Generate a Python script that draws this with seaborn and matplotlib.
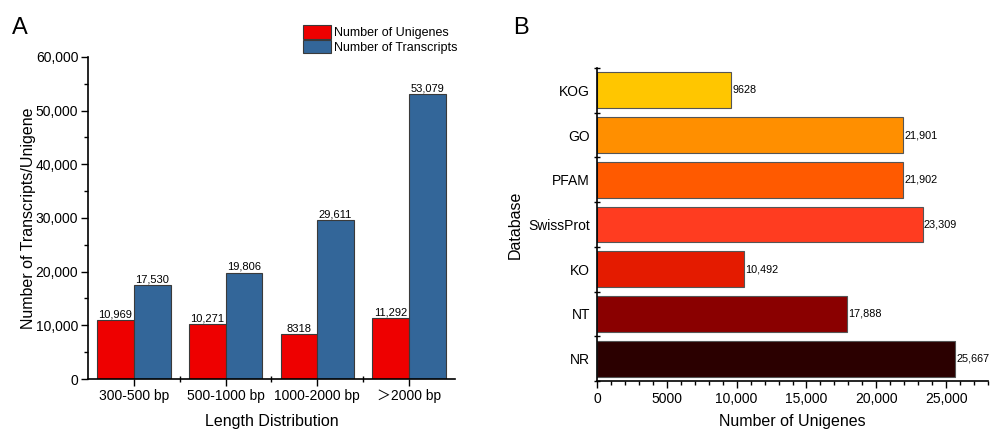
import numpy as np
import pandas as pd
import matplotlib
matplotlib.use("Agg")
import matplotlib.pyplot as plt
from matplotlib.ticker import MultipleLocator, FixedLocator, FuncFormatter
import seaborn as sns

# Panel A data
lengths = ["300-500 bp", "500-1000 bp", "1000-2000 bp", "＞2000 bp"]
unigenes = [10969, 10271, 8318, 11292]
transcripts = [17530, 19806, 29611, 53079]
series_names = ["Number of Unigenes", "Number of Transcripts"]

# Panel B data
databases = ["KOG", "GO", "PFAM", "SwissProt", "KO", "NT", "NR"]
db_counts = [9628, 21901, 21902, 23309, 10492, 17888, 25667]
db_colors = ["#FFC600", "#FF8F00", "#FF5A00", "#FF3C20", "#E41B00", "#8A0000", "#2B0000"]

sns.set_style("white")
plt.rcParams["font.family"] = ["Liberation Sans", "Noto Sans CJK SC", "DejaVu Sans"]
plt.rcParams.update({"text.color": "black", "axes.labelcolor": "black",
                     "xtick.color": "black", "ytick.color": "black"})


def fmt(v):
    v = int(round(v))
    return f"{v:,}" if v >= 10000 else str(v)


df_a = pd.DataFrame({
    "Length": lengths * 2,
    "Count": unigenes + transcripts,
    "Type": [series_names[0]] * 4 + [series_names[1]] * 4,
})
df_b = pd.DataFrame({"Database": databases, "Count": db_counts})

fig = plt.figure(figsize=(9.91, 4.30), dpi=100)
ax1 = fig.add_axes([0.0888, 0.1186, 0.370, 0.749])
ax2 = fig.add_axes([0.6024, 0.1140, 0.3946, 0.728])

# ---- A ----
sns.barplot(data=df_a, x="Length", y="Count", hue="Type",
            palette=["#EE0000", "#336699"], saturation=1, edgecolor="#3a3a3a",
            linewidth=0.8, width=0.8, ax=ax1)
for cont in ax1.containers:
    ax1.bar_label(cont, labels=[fmt(b.get_height()) for b in cont], fontsize=8, padding=0.5)
ax1.set_ylim(0, 60000)
ax1.set_xlim(-0.5, 3.5)
ax1.yaxis.set_major_locator(MultipleLocator(10000))
ax1.yaxis.set_minor_locator(MultipleLocator(5000))
ax1.yaxis.set_major_formatter(FuncFormatter(lambda v, p: fmt(v)))
ax1.xaxis.set_minor_locator(FixedLocator([0.5, 1.5, 2.5]))
ax1.tick_params(axis="both", which="both", bottom=True, left=True)
ax1.tick_params(axis="both", which="major", direction="out", length=5, width=1,
                labelsize=10, pad=2)
ax1.tick_params(axis="y", which="minor", direction="out", length=3, width=1)
ax1.tick_params(axis="x", which="minor", direction="inout", length=5, width=1)
ax1.set_xlabel("Length Distribution", fontsize=11.5, labelpad=8)
ax1.set_ylabel("Number of Transcripts/Unigene", fontsize=11.5, labelpad=0)
for s in ["top", "right"]:
    ax1.spines[s].set_visible(False)
for s in ["left", "bottom"]:
    ax1.spines[s].set_color("black")
    ax1.spines[s].set_linewidth(1.2)
ax1.legend(loc="upper left", bbox_to_anchor=(303 / 991, 1 - 25 / 430),
           bbox_transform=fig.transFigure, frameon=False, fontsize=9,
           handlelength=2.2, handleheight=1.3, labelspacing=0.05,
           handletextpad=0.3, borderpad=0, borderaxespad=0)

# ---- B ----
sns.barplot(data=df_b, x="Count", y="Database", hue="Database", palette=db_colors,
            saturation=1, legend=False, edgecolor="#555555", linewidth=0.8,
            width=0.8, orient="h", ax=ax2)
for cont in ax2.containers:
    ax2.bar_label(cont, labels=[fmt(b.get_width()) for b in cont], fontsize=7.8, padding=1)
ax2.set_xlim(0, 28000)
ax2.set_ylim(len(databases) - 0.5, -0.5)
ax2.xaxis.set_major_locator(MultipleLocator(5000))
ax2.xaxis.set_minor_locator(MultipleLocator(1000))
ax2.xaxis.set_major_formatter(FuncFormatter(lambda v, p: fmt(v)))
ax2.yaxis.set_minor_locator(FixedLocator(np.arange(-0.5, len(databases), 1.0)))
ax2.tick_params(axis="both", which="both", bottom=True, left=True)
ax2.tick_params(axis="x", which="major", direction="out", length=5, width=1,
                labelsize=10, pad=3)
ax2.tick_params(axis="x", which="minor", direction="out", length=3, width=1)
ax2.tick_params(axis="y", which="major", length=0, labelsize=10, pad=5)
ax2.tick_params(axis="y", which="minor", direction="inout", length=5, width=1)
ax2.set_xlabel("Number of Unigenes", fontsize=11.5, labelpad=6)
ax2.set_ylabel("Database", fontsize=11.5, labelpad=4)
for s in ["top", "right"]:
    ax2.spines[s].set_visible(False)
for s in ["left", "bottom"]:
    ax2.spines[s].set_color("black")
    ax2.spines[s].set_linewidth(1.2)

fig.text(12 / 991, 1 - 34 / 430, "A", fontsize=17)
fig.text(513 / 991, 1 - 34 / 430, "B", fontsize=17)

fig.savefig("out.png", dpi=100)
